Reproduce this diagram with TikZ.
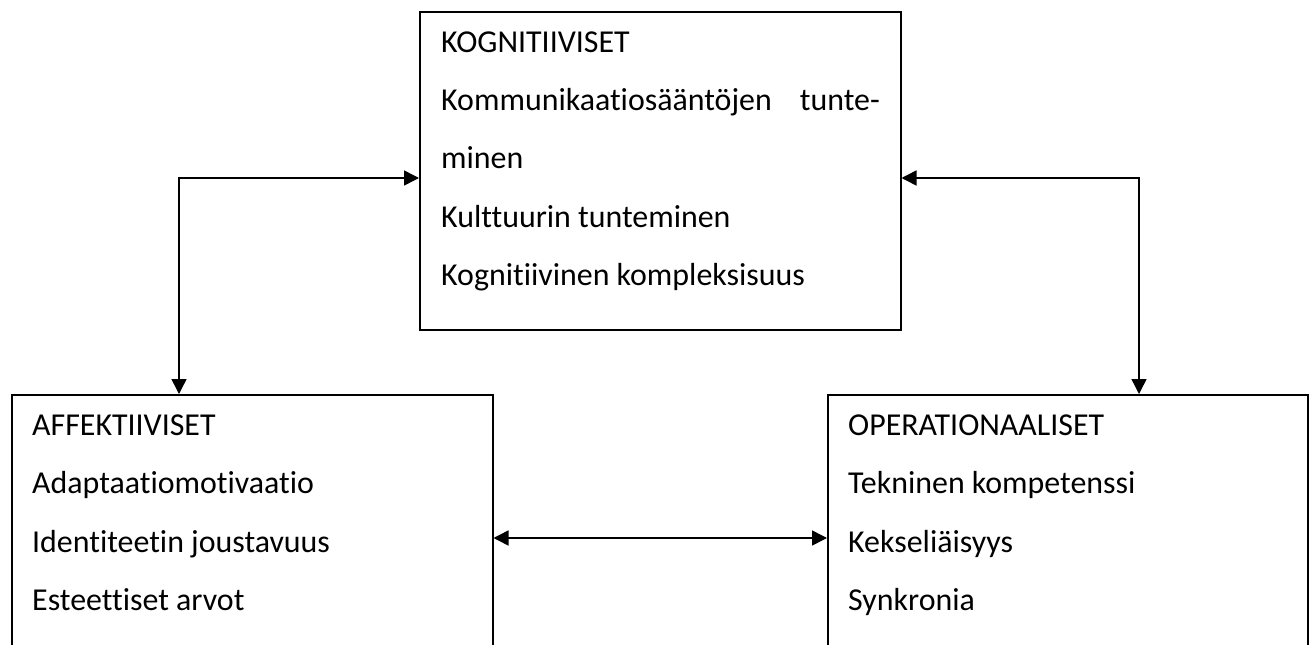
\documentclass[tikz,border=0pt]{standalone}
\usepackage{fontspec}
\setmainfont{Carlito}[Ligatures={NoCommon}]
\usetikzlibrary{arrows.meta}
\begin{document}
\begin{tikzpicture}[x=1pt,y=-1pt,
  box/.style={draw,line width=1.5pt,inner sep=0pt,anchor=north west},
  txt/.style={anchor=base west,inner sep=0pt,font=\fontsize{31.9}{38}\selectfont},
  txtr/.style={txt,anchor=base east},
  arr/.style={line width=1.5pt,{Triangle[length=15pt,width=15pt]}-{Triangle[length=15pt,width=15pt]}}]
\useasboundingbox (0,0) rectangle (1312,645);
\fill[white] (0,0) rectangle (1312,645);
\clip (0,0) rectangle (1312,645);
% boxes
\node[box,minimum width=481pt,minimum height=318pt] (kog) at (419,11) {};
\node[box,minimum width=481pt,minimum height=290pt] (aff) at (11,394) {};
\node[box,minimum width=480pt,minimum height=290pt] (ope) at (827,394) {};
% top text
\node[txt] (k1) at (441,52) {KOGNITIIVISET};
\node[txt] (k2) at (441,110) {Kommunikaatiosääntöjen};
\node[txtr] (k2b) at (880,110) {tunte-};
\node[txt] (k3) at (441,168) {minen};
\node[txt] (k4) at (441,227) {Kulttuurin tunteminen};
\node[txt] (k5) at (441,285) {Kognitiivinen kompleksisuus};
% left text
\node[txt] (a1) at (32,435) {AFFEKTIIVISET};
\node[txt] (a2) at (32,493) {Adaptaatiomotivaatio};
\node[txt] (a3) at (32,552) {Identiteetin joustavuus};
\node[txt] (a4) at (32,610) {Esteettiset arvot};
% right text
\node[txt] (o1) at (848,435) {OPERATIONAALISET};
\node[txt] (o2) at (848,493) {Tekninen kompetenssi};
\node[txt] (o3) at (848,552) {Kekseliäisyys};
\node[txt] (o4) at (848,610) {Synkronia};
% connectors
\coordinate (lc) at (179,178);
\coordinate (rc) at (1139,178);
\coordinate (mc) at (660,538);
\draw[arr] (kog.west |- lc) -- (lc) -- (lc |- aff.north);
\draw[arr] (kog.east |- rc) -- (rc) -- (rc |- ope.north);
\draw[arr] (aff.east |- mc) -- (ope.west |- mc);
\end{tikzpicture}
\end{document}
